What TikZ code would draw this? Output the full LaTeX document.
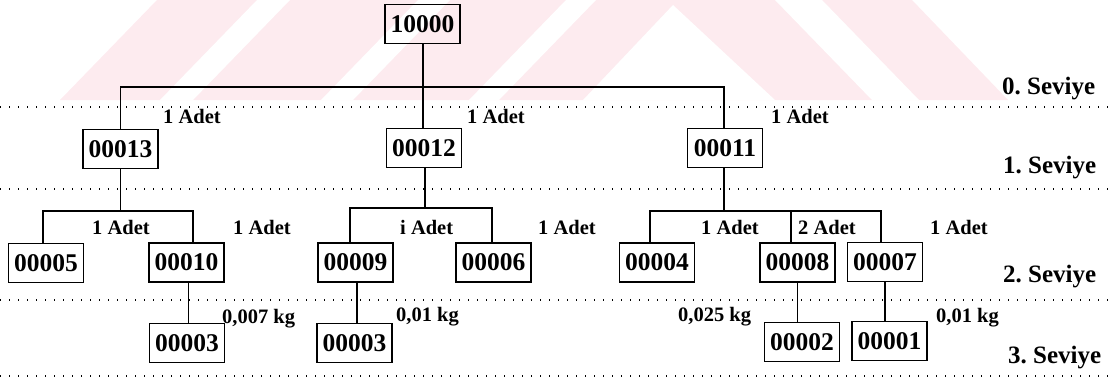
\documentclass[tikz,border=0pt]{standalone}
\usepackage{fontspec}
\setmainfont{Liberation Serif}
\definecolor{wmpink}{RGB}{253,235,239}
\frenchspacing
\begin{document}
\begin{tikzpicture}[x=1pt,y=-1pt,
  part/.style={draw, line width=1.5pt, minimum width=75pt, minimum height=39pt,
    inner sep=0pt, font=\fontsize{25.5}{26}\selectfont\bfseries},
  qty/.style={anchor=base west, inner sep=0pt, font=\fontsize{20.5}{21}\selectfont\bfseries},
  levelname/.style={anchor=base west, inner sep=0pt, font=\fontsize{25}{26}\selectfont\bfseries},
  link/.style={line width=1.5pt},
  sep/.style={line width=1.3pt, dash pattern=on 1.3pt off 7.7pt}]
\useasboundingbox (0,0) rectangle (1115,381);

% faint background emblem
\fill[wmpink] (157,0) -- (912,0) -- (1008,100) -- (60,100) -- cycle;
\fill[white] (257,0) -- (290,0) -- (193,100) -- (160,100) -- cycle;
\fill[white] (418,0) -- (450,0) -- (353,100) -- (321,100) -- cycle;
\fill[white] (566,0) -- (596,0) -- (499,100) -- (469,100) -- cycle;
\fill[white] (673,5) -- (775,100) -- (583,100) -- cycle;
\fill[white] (775,0) -- (822,0) -- (919,100) -- (872,100) -- cycle;

% level separators
\draw[sep] (0,107) -- (1115,107);
\draw[sep] (0,189) -- (1115,189);
\draw[sep] (0,300) -- (1115,300);
\draw[sep] (0,376) -- (1115,376);

% parts
\node[part] (n10000) at (422.5,24) {10000};

\node[part] (n00013) at (120.5,149) {00013};
\node[part] (n00012) at (424,148) {00012};
\node[part] (n00011) at (725,148) {00011};

\node[part] (n00005) at (46,263) {00005};
\node[part] (n00010) at (186.5,262.5) {00010};
\node[part] (n00009) at (355.5,262.5) {00009};
\node[part] (n00006) at (493.5,262.5) {00006};
\node[part] (n00004) at (657,262.5) {00004};
\node[part] (n00008) at (797.5,262.5) {00008};
\node[part] (n00007) at (885,262) {00007};

\node[part] (n00003a) at (187,343) {00003};
\node[part] (n00003b) at (354.5,343) {00003};
\node[part] (n00002) at (802,342) {00002};
\node[part] (n00001) at (889.5,341) {00001};

% junctions of the branch bars
\coordinate (j0) at (423,87);
\coordinate (j1) at (121,211);
\coordinate (j2) at (425,208);
\coordinate (j3) at (724,211);

% level 0 -> 1
\draw[link] ([xshift=0.5pt]n10000.south) -- ([xshift=0.5pt]n10000.south |- n00012.north);
\draw[link] (n00013.north) |- (j0) -| ([xshift=-1pt]n00011.north);

% level 1 -> 2
\draw[link] (n00013.south) -- (n00013.south |- j1);
\draw[link] ([xshift=-3pt]n00005.north) |- (j1) -| ([xshift=6.5pt]n00010.north);

\draw[link] ([xshift=1pt]n00012.south) -- ([xshift=1pt]n00012.south |- j2);
\draw[link] ([xshift=-5.5pt]n00009.north) |- (j2) -| ([xshift=-1.5pt]n00006.north);

\draw[link] ([xshift=-1pt]n00011.south) -- ([xshift=-1pt]n00011.south |- j3);
\draw[link] ([xshift=-7pt]n00004.north) |- (j3) -| ([xshift=-4pt]n00007.north);
\draw[link] ([xshift=-6.5pt]n00008.north) -- ([xshift=-6.5pt]n00008.north |- j3);

% level 2 -> 3
\draw[link] ([xshift=2pt]n00010.south) -- ([xshift=2pt]n00010.south |- n00003a.north);
\draw[link] ([xshift=1.5pt]n00009.south) -- ([xshift=1.5pt]n00009.south |- n00003b.north);
\draw[link] (n00008.south) -- (n00008.south |- n00002.north);
\draw[link] (n00007.south) -- (n00007.south |- n00001.north);

% quantities
\node[qty] (q13) at (163,123) {1 Adet};
\node[qty] (q12) at (467,123) {1 Adet};
\node[qty] (q11) at (771,123) {1 Adet};

\node[qty] (q05) at (92,234) {1 Adet};
\node[qty] (q10) at (233,234) {1 Adet};
\node[qty] (q09) at (400,234) {i Adet};
\node[qty] (q06) at (538,234) {1 Adet};
\node[qty] (q04) at (701,234) {1 Adet};
\node[qty] (q08) at (798,234) {2 Adet};
\node[qty] (q07) at (930,234) {1 Adet};

\node[qty] (q03a) at (222,323) {0,007 kg};
\node[qty] (q03b) at (396,321) {0,01 kg};
\node[qty] (q02) at (678,321) {0,025 kg};
\node[qty] (q01) at (936,322) {0,01 kg};

% level names
\node[levelname] (lv0) at (1002,94) {0. Seviye};
\node[levelname] (lv1) at (1003,173) {1. Seviye};
\node[levelname] (lv2) at (1003,282) {2. Seviye};
\node[levelname] (lv3) at (1008,363) {3. Seviye};
\end{tikzpicture}
\end{document}
